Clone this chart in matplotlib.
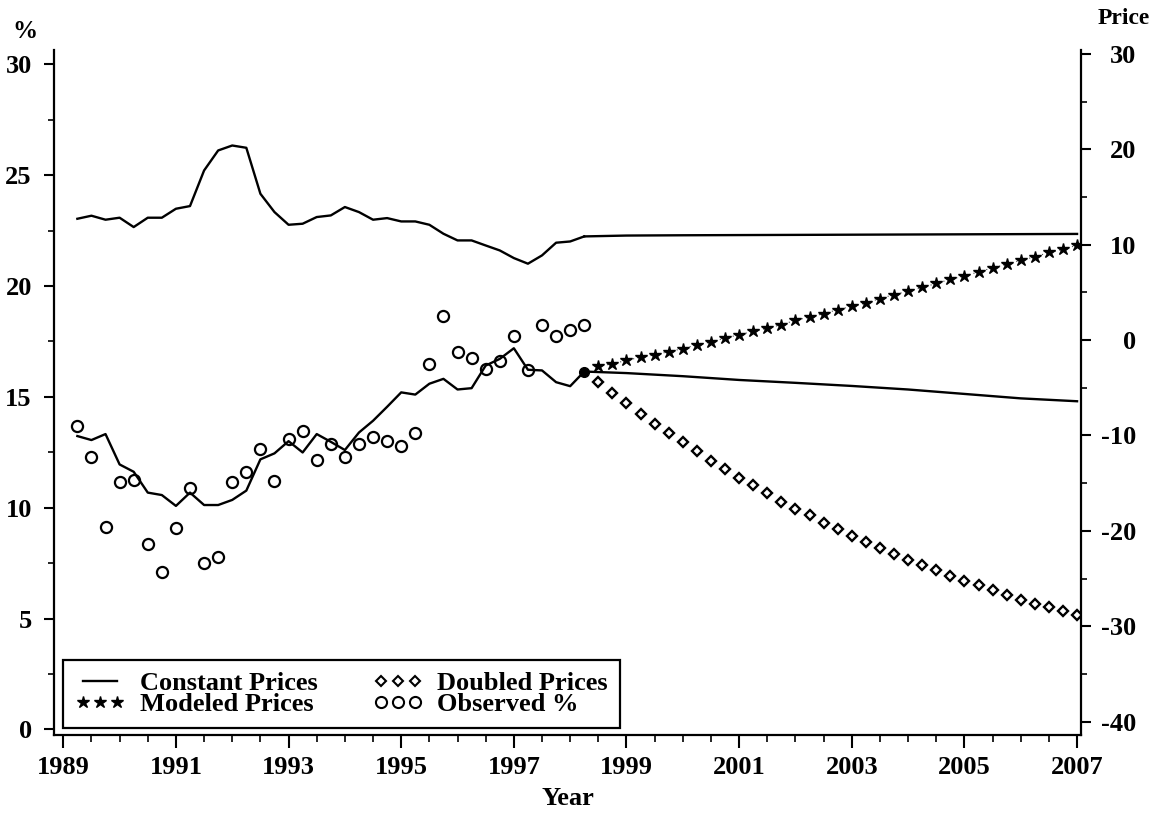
import numpy as np
import matplotlib
matplotlib.use("Agg")
import matplotlib.pyplot as plt
from matplotlib.lines import Line2D
from matplotlib.ticker import FixedLocator, MultipleLocator

plt.rcParams['font.family'] = ['Liberation Serif', 'DejaVu Serif']
plt.rcParams['font.weight'] = 'bold'
plt.rcParams['axes.labelweight'] = 'bold'
plt.rcParams['axes.unicode_minus'] = False

# quarterly history, 1989Q1 .. 1998Q1
hist_years = np.arange(1989.25, 1998.26, 0.25)

observed_pct = [13.68, 12.27, 9.14, 11.17, 11.25, 8.35, 7.09, 9.07, 10.90, 7.49,
                7.79, 11.14, 11.62, 12.63, 11.20, 13.08, 13.47, 12.15, 12.87, 12.30,
                12.87, 13.18, 13.00, 12.76, 13.36, 16.46, 18.66, 17.01, 16.74, 16.26,
                16.60, 17.76, 16.22, 18.26, 17.76, 18.02, 18.24]

fitted_pct = [13.23, 13.05, 13.32, 11.95, 11.62, 10.68, 10.57, 10.08, 10.68, 10.12,
              10.12, 10.35, 10.77, 12.18, 12.45, 13.00, 12.49, 13.32, 12.97, 12.60,
              13.39, 13.92, 14.55, 15.20, 15.10, 15.59, 15.81, 15.33, 15.39, 16.41,
              16.71, 17.19, 16.22, 16.19, 15.66, 15.48, 16.14]

price_hist = [12.71, 13.03, 12.61, 12.82, 11.84, 12.82, 12.82, 13.76, 14.04, 17.77,
              19.87, 20.39, 20.15, 15.33, 13.41, 12.08, 12.19, 12.89, 13.06, 13.94,
              13.41, 12.61, 12.78, 12.43, 12.43, 12.08, 11.14, 10.44, 10.44, 9.91,
              9.39, 8.59, 8.00, 8.87, 10.20, 10.33, 10.86]

# projections
proj_years = [1998.25, 1999, 2000, 2001, 2002, 2003, 2004, 2005, 2006, 2007]
const_pct = [16.14, 16.07, 15.93, 15.76, 15.63, 15.49, 15.33, 15.13, 14.93, 14.80]
const_price = [10.86, 10.95, 10.98, 11.00, 11.02, 11.04, 11.06, 11.08, 11.10, 11.12]

scen_years = np.arange(1998.5, 2007.01, 0.25)
modeled_pct = [16.38, 16.49, 16.64, 16.79, 16.89, 17.04, 17.17, 17.35, 17.47, 17.65,
               17.80, 17.95, 18.10, 18.25, 18.45, 18.60, 18.75, 18.93, 19.08, 19.23,
               19.43, 19.61, 19.76, 19.93, 20.11, 20.30, 20.45, 20.63, 20.82, 20.97,
               21.16, 21.31, 21.51, 21.65, 21.84]
doubled_pct = [15.66, 15.17, 14.71, 14.22, 13.77, 13.35, 12.94, 12.54, 12.11, 11.74,
               11.36, 11.01, 10.65, 10.27, 9.96, 9.65, 9.32, 9.02, 8.72, 8.45,
               8.16, 7.92, 7.66, 7.41, 7.17, 6.94, 6.71, 6.50, 6.28, 6.05,
               5.85, 5.66, 5.51, 5.33, 5.15]

legend_labels = ["Constant Prices", "Modeled Prices", "Doubled Prices", "Observed %"]
xticks = list(range(1989, 2008, 2))

fig = plt.figure(figsize=(11.61, 8.17), dpi=100)
ax = fig.add_axes([0.0465, 0.1004, 0.8846, 0.8384])
ax2 = ax.twinx()

lw = 1.7
ax.plot(hist_years, fitted_pct, color='k', lw=lw)
ax.plot(proj_years, const_pct, color='k', lw=lw)
ax.plot(hist_years, observed_pct, ls='none', marker='o', ms=8, mfc='none',
        mec='k', mew=1.6)
ax.plot(scen_years, doubled_pct, ls='none', marker='D', ms=5.5, mfc='none',
        mec='k', mew=1.7)
ax.plot(scen_years, modeled_pct, color='0.3', ls=(0, (1, 3)), lw=0.8,
        marker='*', ms=9, mfc='k', mec='k')
# common starting point of the three scenarios
ax.plot(hist_years[-1:], fitted_pct[-1:], ls='none', marker='o', ms=7, color='k')

ax2.plot(hist_years, price_hist, color='k', lw=lw)
ax2.plot(proj_years, const_price, color='k', lw=lw)

ax.set_xlim(1988.835, 2007.07)
ax.set_ylim(-0.25, 30.64)
ax2.set_ylim(-41.4, 30.4)

ax.xaxis.set_major_locator(FixedLocator(xticks))
ax.xaxis.set_minor_locator(MultipleLocator(0.5))
ax.set_xticklabels([str(y) for y in xticks])
ax.yaxis.set_major_locator(FixedLocator(range(0, 31, 5)))
ax.yaxis.set_minor_locator(MultipleLocator(2.5))
ax2.yaxis.set_major_locator(FixedLocator(range(-40, 31, 10)))
ax2.yaxis.set_minor_locator(MultipleLocator(5))

for a in (ax, ax2):
    a.spines['top'].set_visible(False)
    for s in a.spines.values():
        s.set_linewidth(1.6)
ax.spines['right'].set_visible(False)
ax2.spines['left'].set_visible(False)
ax2.spines['bottom'].set_visible(False)

ax.tick_params(axis='x', which='major', length=9, width=1.5, pad=6, labelsize=19)
ax.tick_params(axis='x', which='minor', length=5, width=1.2)
ax.tick_params(axis='y', which='major', length=7, width=1.5, pad=9, labelsize=19)
ax.tick_params(axis='y', which='minor', length=4, width=1.2)
ax2.tick_params(axis='y', which='major', length=7, width=1.5, pad=33, labelsize=19)
ax2.tick_params(axis='y', which='minor', length=4, width=1.2)
for t in ax2.get_yticklabels():
    t.set_horizontalalignment('right')

ax.set_xlabel("Year", fontsize=19, fontweight='bold', labelpad=6)
fig.text(25 / 1161, 1 - 31 / 817, "%", fontsize=18, ha='center', va='center')
fig.text(1124 / 1161, 1 - 18 / 817, "Price", fontsize=17, ha='center', va='center')

handles = [
    Line2D([], [], color='k', lw=lw),
    Line2D([], [], ls='none', marker='*', ms=9, mfc='k', mec='k'),
    Line2D([], [], ls='none', marker='D', ms=5.5, mfc='none', mec='k', mew=1.5),
    Line2D([], [], ls='none', marker='o', ms=8, mfc='none', mec='k', mew=1.5),
]
leg = ax2.legend(handles, legend_labels, ncol=2, loc='lower left',
                 bbox_to_anchor=(0.0088, 0.0103), borderaxespad=0,
                 numpoints=3, handlelength=1.9, handletextpad=0.55,
                 columnspacing=2.1, labelspacing=-0.1, borderpad=0.45,
                 fancybox=False, framealpha=1, edgecolor='k',
                 prop=dict(family='Liberation Serif', weight='bold', size=19))
leg.get_frame().set_linewidth(1.6)

fig.savefig("out.png", dpi=100)
